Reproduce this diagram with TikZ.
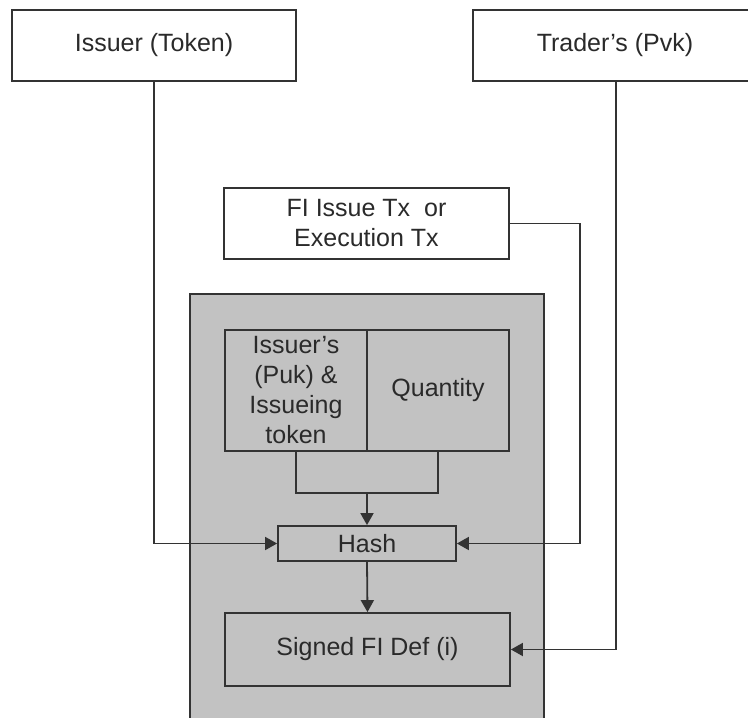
\documentclass[tikz,border=0pt]{standalone}
\usepackage{fontspec}
\setmainfont{Liberation Sans}
\usetikzlibrary{arrows.meta}
\definecolor{linec}{HTML}{333333}
\definecolor{textc}{HTML}{2A2A2A}
\definecolor{grayfill}{HTML}{C2C2C2}
\begin{document}
\begin{tikzpicture}[x=1pt,y=-1pt,
  box/.style={draw=linec, line width=1.8pt, rectangle, inner sep=0pt, align=center,
    text=textc, font=\fontsize{25}{30}\selectfont},
  conn/.style={draw=linec, line width=1.8pt},
  arr/.style={conn, -{Triangle[length=12pt,width=13pt]}}]
\useasboundingbox (0,0) rectangle (748,718);
\clip (0,0) rectangle (748,718);
\fill[white] (0,0) rectangle (748,718);
% outer gray container
\node[box, fill=grayfill, minimum width=354pt, minimum height=446pt] (gray) at (367,517) {};
% top boxes
\node[box, fill=white, minimum width=284pt, minimum height=71pt] (iss) at (154,45.5) {Issuer (Token)};
\node[box, fill=white, minimum width=286pt, minimum height=71pt] (tr) at (616,45.5) {\hspace*{-2pt}Trader's (Pvk)};
\node[box, fill=white, minimum width=285pt, minimum height=71pt] (fi) at (366.5,223.5) {FI Issue Tx\ \ or\\Execution Tx};
% inner boxes
\node[box, fill=grayfill, minimum width=142pt, minimum height=121pt] (puk) at (296,390.5) {Issuer's\\(Puk) \&\\Issueing\\token};
\node[box, fill=grayfill, minimum width=142pt, minimum height=121pt] (qty) at (438,390.5) {Quantity};
\node[box, fill=grayfill, minimum width=178pt, minimum height=35pt] (hash) at (367,543.5) {Hash};
\node[box, fill=grayfill, minimum width=285pt, minimum height=73pt] (sig) at (367.5,649.5) {Signed FI Def (i)};
% connector helper points
\coordinate (bl) at (296,493);
\coordinate (br) at (438,493);
\coordinate (fx) at (580,223.5);
% connectors
\draw[conn] (puk.south) -- (bl) -- (br) -- (qty.south);
\draw[arr] (hash.north |- bl) -- (hash.north);
\draw[arr] (iss.south) |- (hash.west);
\draw[arr] (fi.east) -- (fx) |- (hash.east);
\draw[arr] (tr.south) |- (sig.east);
\draw[arr] (hash.south) -- (sig.north);
\end{tikzpicture}
\end{document}
